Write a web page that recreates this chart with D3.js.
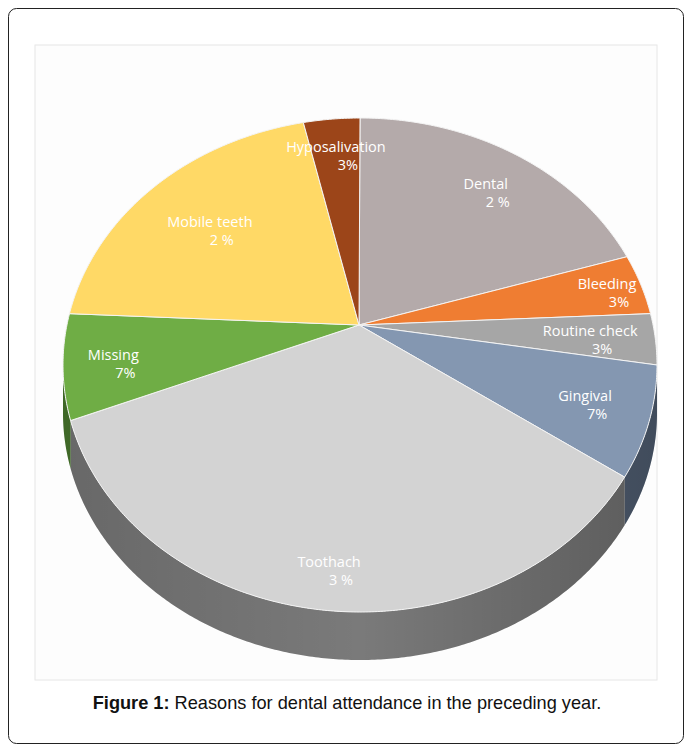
<!DOCTYPE html>
<html><head><meta charset="utf-8">
<script src="https://cdn.jsdelivr.net/npm/d3@7"></script>
<style>body{margin:0;background:#fff}</style>
</head><body>
<script>
const categories = ["Dental", "Bleeding", "Routine check", "Gingival", "Toothach", "Missing", "Mobile teeth", "Hyposalivation"];
const pctLabels = ["2 %", "3%", "3%", "7%", "3 %", "7%", "2 %", "3%"];
const values = [64, 14, 12, 27, 140, 25, 67, 11];
const colors = ["#b4aaaa", "#ef7d32", "#a6a6a6", "#8497b1", "#d3d3d3", "#6fad45", "#ffd966", "#9c4519"];
const sideColors = ["#7a7070", "#a85520", "#707070", "#56657a", "#7a7a7a", "#4a7a2e", "#b09640", "#6a2f10"];
const labelR = [0.8, 0.88, 0.78, 0.78, 0.85, 0.83, 0.72, 0.84];

const W = 692, H = 751;
const svg = d3.select("body").append("svg").attr("width", W).attr("height", H);

svg.append("rect").attr("x", 8.5).attr("y", 8.5).attr("width", 675).attr("height", 735)
    .attr("rx", 8).attr("fill", "#fff").attr("stroke", "#222");
svg.append("rect").attr("x", 35).attr("y", 45).attr("width", 622).attr("height", 635)
    .attr("fill", "#fdfdfd").attr("stroke", "#e6e6e6");

const cx = 360, cy = 365, rx = 297, ry = 247, depth = 48;
const vx = 359, vy = 325;
const toRad = d3.scaleLinear().domain([0, d3.sum(values)]).range([0, 2 * Math.PI]);
const pt = (t, dy = 0) => [cx + rx * Math.sin(t), cy - ry * Math.cos(t) + dy];

const slices = [];
let acc = 0;
values.forEach((v, i) => {
    slices.push({ i, a0: toRad(acc), a1: toRad(acc + v) });
    acc += v;
});

const line = d3.line();

// side walls (visible from 90 to 270 deg)
const lo = Math.PI / 2, hi = 3 * Math.PI / 2;
slices.forEach(s => {
    const a0 = Math.max(s.a0, lo), a1 = Math.min(s.a1, hi);
    if (a1 <= a0) return;
    const ts = d3.range(a0, a1, 0.01).concat([a1]);
    const pts = ts.map(t => pt(t)).concat(ts.slice().reverse().map(t => pt(t, depth)));
    svg.append("path").attr("d", line(pts) + "Z").attr("fill", sideColors[s.i]);
});
const grad = svg.append("defs").append("linearGradient").attr("id", "sh");
grad.append("stop").attr("offset", "0%").attr("stop-color", "#000").attr("stop-opacity", 0.15);
grad.append("stop").attr("offset", "50%").attr("stop-color", "#000").attr("stop-opacity", 0.0);
grad.append("stop").attr("offset", "100%").attr("stop-color", "#000").attr("stop-opacity", 0.25);
{
    const ts = d3.range(lo, hi, 0.01).concat([hi]);
    const pts = ts.map(t => pt(t)).concat(ts.slice().reverse().map(t => pt(t, depth)));
    svg.append("path").attr("d", line(pts) + "Z").attr("fill", "url(#sh)");
}

// top faces
slices.forEach(s => {
    const ts = d3.range(s.a0, s.a1, 0.01).concat([s.a1]);
    const pts = [[vx, vy]].concat(ts.map(t => pt(t)));
    svg.append("path").attr("d", line(pts) + "Z")
        .attr("fill", colors[s.i]).attr("stroke", "#f4f4f4").attr("stroke-width", 1);
});

// labels
slices.forEach(s => {
    const m = (s.a0 + s.a1) / 2, f = labelR[s.i];
    const x = vx + (pt(m)[0] - vx) * f, y = vy + (pt(m)[1] - vy) * f;
    const g = svg.append("text").attr("x", x).attr("y", y).attr("text-anchor", "middle")
        .attr("fill", "#fff").attr("font-family", "Open Sans, sans-serif").attr("font-size", 14.5);
    g.append("tspan").attr("x", x).text(categories[s.i]);
    g.append("tspan").attr("x", x + 12).attr("dy", 18).text(pctLabels[s.i]);
});

const cap = svg.append("text").attr("x", 347).attr("y", 709).attr("text-anchor", "middle")
    .attr("font-family", "Liberation Sans, Arial, sans-serif").attr("font-size", 18.2).attr("fill", "#111");
cap.append("tspan").attr("font-weight", "bold").text("Figure 1:");
cap.append("tspan").text(" Reasons for dental attendance in the preceding year.");
</script>
</body></html>
